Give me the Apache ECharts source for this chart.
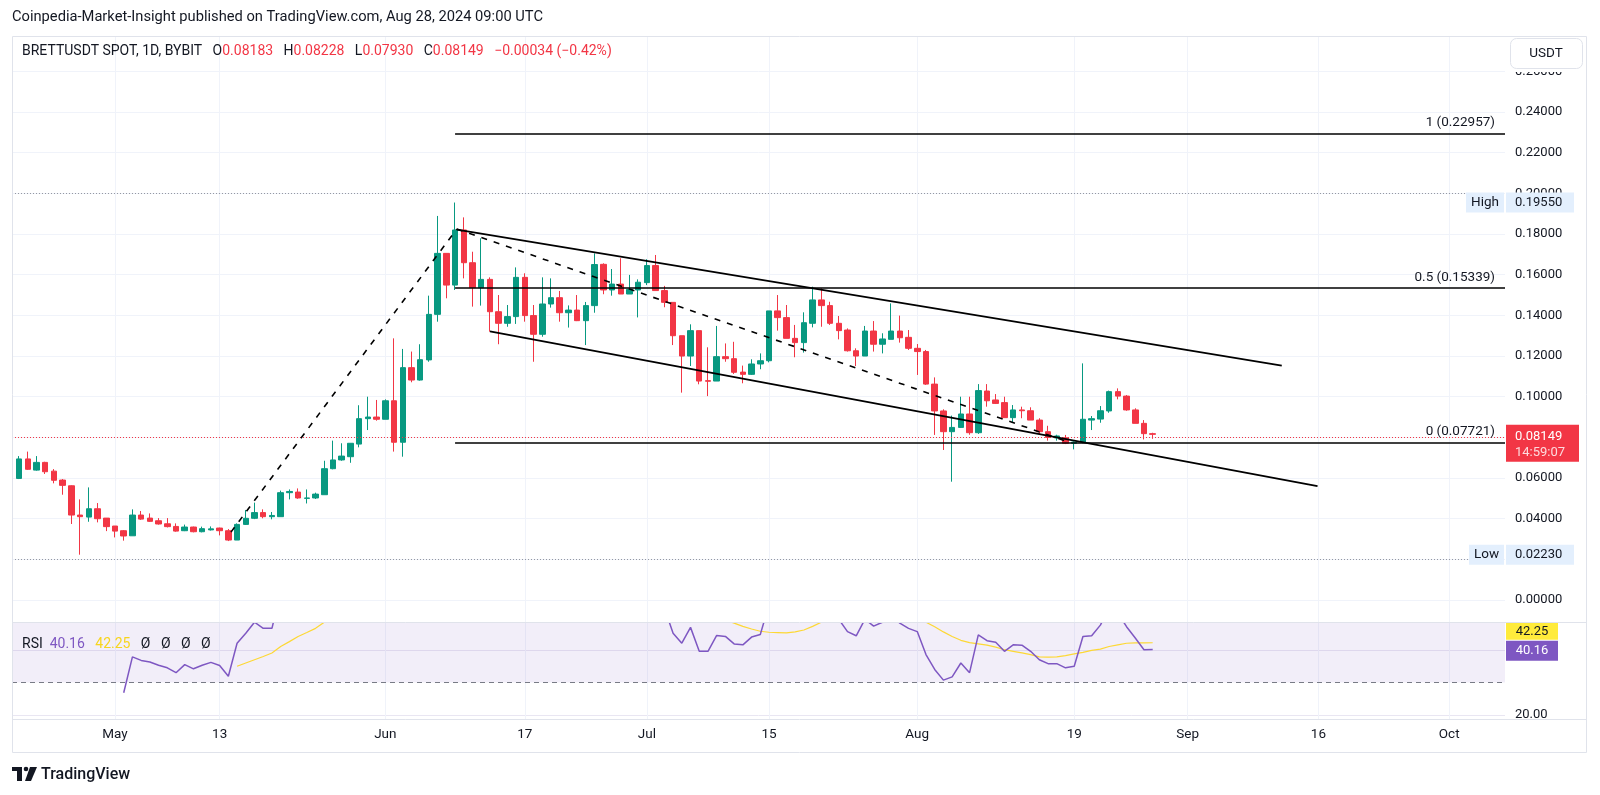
<!DOCTYPE html>
<html><head><meta charset="utf-8">
<script src="https://cdn.jsdelivr.net/npm/echarts@6/dist/echarts.min.js"></script>
<style>html,body{margin:0;padding:0;background:#fff}#c{width:1600px;height:795px}</style>
</head><body><div id="c"></div><script>
// ---------------- DATA ----------------
const dates = [
'2024-04-20','2024-04-21','2024-04-22','2024-04-23','2024-04-24','2024-04-25','2024-04-26','2024-04-27','2024-04-28','2024-04-29','2024-04-30',
'2024-05-01','2024-05-02','2024-05-03','2024-05-04','2024-05-05','2024-05-06','2024-05-07','2024-05-08','2024-05-09','2024-05-10','2024-05-11','2024-05-12','2024-05-13','2024-05-14','2024-05-15','2024-05-16','2024-05-17','2024-05-18','2024-05-19','2024-05-20','2024-05-21','2024-05-22','2024-05-23','2024-05-24','2024-05-25','2024-05-26','2024-05-27','2024-05-28','2024-05-29','2024-05-30','2024-05-31',
'2024-06-01','2024-06-02','2024-06-03','2024-06-04','2024-06-05','2024-06-06','2024-06-07','2024-06-08','2024-06-09','2024-06-10','2024-06-11','2024-06-12','2024-06-13','2024-06-14','2024-06-15','2024-06-16','2024-06-17','2024-06-18','2024-06-19','2024-06-20','2024-06-21','2024-06-22','2024-06-23','2024-06-24','2024-06-25','2024-06-26','2024-06-27','2024-06-28','2024-06-29','2024-06-30',
'2024-07-01','2024-07-02','2024-07-03','2024-07-04','2024-07-05','2024-07-06','2024-07-07','2024-07-08','2024-07-09','2024-07-10','2024-07-11','2024-07-12','2024-07-13','2024-07-14','2024-07-15','2024-07-16','2024-07-17','2024-07-18','2024-07-19','2024-07-20','2024-07-21','2024-07-22','2024-07-23','2024-07-24','2024-07-25','2024-07-26','2024-07-27','2024-07-28','2024-07-29','2024-07-30','2024-07-31',
'2024-08-01','2024-08-02','2024-08-03','2024-08-04','2024-08-05','2024-08-06','2024-08-07','2024-08-08','2024-08-09','2024-08-10','2024-08-11','2024-08-12','2024-08-13','2024-08-14','2024-08-15','2024-08-16','2024-08-17','2024-08-18','2024-08-19','2024-08-20','2024-08-21','2024-08-22','2024-08-23','2024-08-24','2024-08-25','2024-08-26','2024-08-27','2024-08-28'];
const opens = [
0.0598,0.0694,0.0639,0.0677,0.0634,0.0590,0.0562,0.0418,0.0408,0.0449,0.0403,
0.0364,0.0341,0.0316,0.0418,0.0403,0.0390,0.0375,0.0362,0.0341,0.0359,0.0336,0.0345,0.0354,0.0341,0.0295,0.0372,0.0402,0.0430,0.0410,0.0410,0.0528,0.0531,0.0500,0.0502,0.0518,0.0646,0.0689,0.0705,0.0767,0.0892,0.0900,
0.0889,0.0980,0.0776,0.1143,0.1082,0.1181,0.1405,0.1705,0.1549,0.1820,0.1659,0.1536,0.1577,0.1418,0.1361,0.1394,0.1587,0.1399,0.1307,0.1456,0.1487,0.1413,0.1426,0.1374,0.1448,0.1651,0.1525,0.1554,0.1505,0.1525,
0.1561,0.1645,0.1522,0.1464,0.1300,0.1200,0.1325,0.1079,0.1077,0.1197,0.1187,0.1121,0.1110,0.1161,0.1177,0.1422,0.1389,0.1287,0.1266,0.1361,0.1476,0.1448,0.1361,0.1328,0.1226,0.1200,0.1323,0.1258,0.1282,0.1323,0.1292,
0.1238,0.1222,0.1062,0.0930,0.0828,0.0849,0.0915,0.0823,0.1028,0.0984,0.0971,0.0897,0.0935,0.0931,0.0885,0.0828,0.0797,0.0798,0.0771,0.0777,0.0885,0.0890,0.0930,0.1025,0.1003,0.0935,0.0869,0.08183];
const highs = [
0.0708,0.0730,0.0708,0.0680,0.0644,0.0595,0.0564,0.0495,0.0554,0.0477,0.0403,
0.0364,0.0344,0.0446,0.0438,0.0426,0.0403,0.0403,0.0377,0.0371,0.0361,0.0361,0.0362,0.0356,0.0349,0.0377,0.0443,0.0479,0.0446,0.0433,0.0538,0.0544,0.0549,0.0544,0.0528,0.0685,0.0784,0.0771,0.0771,0.0958,0.1000,0.0984,
0.0987,0.1287,0.1235,0.1222,0.1258,0.1497,0.1889,0.1705,0.1955,0.1882,0.1713,0.1779,0.1587,0.1500,0.1451,0.1636,0.1607,0.1451,0.1587,0.1582,0.1520,0.1449,0.1500,0.1466,0.1705,0.1656,0.1628,0.1681,0.1599,0.1577,
0.1676,0.1697,0.1545,0.1464,0.1300,0.1356,0.1325,0.1243,0.1348,0.1262,0.1270,0.1153,0.1184,0.1213,0.1422,0.1500,0.1451,0.1353,0.1415,0.1541,0.1533,0.1467,0.1397,0.1336,0.1238,0.1348,0.1372,0.1312,0.1459,0.1399,0.1328,
0.1259,0.1230,0.1095,0.0938,0.0907,0.1000,0.1000,0.1062,0.1062,0.1013,0.1000,0.0959,0.0951,0.0948,0.0894,0.0857,0.0813,0.0812,0.0780,0.1164,0.0905,0.0954,0.1030,0.1041,0.1008,0.0943,0.0885,0.08228];
const lows = [
0.0595,0.0640,0.0636,0.0620,0.0574,0.0518,0.0374,0.0223,0.0385,0.0382,0.0339,
0.0308,0.0292,0.0316,0.0394,0.0384,0.0371,0.0357,0.0336,0.0339,0.0333,0.0333,0.0342,0.0318,0.0290,0.0295,0.0369,0.0398,0.0402,0.0397,0.0410,0.0495,0.0498,0.0475,0.0497,0.0518,0.0643,0.0685,0.0675,0.0751,0.0836,0.0882,
0.0889,0.0730,0.0705,0.1071,0.1079,0.1172,0.1369,0.1484,0.1525,0.1582,0.1443,0.1448,0.1320,0.1258,0.1344,0.1358,0.1369,0.1172,0.1295,0.1438,0.1369,0.1340,0.1372,0.1254,0.1413,0.1504,0.1497,0.1505,0.1505,0.1390,
0.1549,0.1522,0.1440,0.1254,0.1020,0.1151,0.1061,0.1003,0.1077,0.1172,0.1112,0.1066,0.1107,0.1135,0.1169,0.1325,0.1287,0.1194,0.1217,0.1341,0.1344,0.1353,0.1282,0.1222,0.1151,0.1200,0.1222,0.1213,0.1282,0.1266,0.1230,
0.1107,0.1058,0.0812,0.0738,0.0582,0.0846,0.0813,0.0817,0.0951,0.0964,0.0897,0.0872,0.0894,0.0885,0.0816,0.0784,0.0784,0.0767,0.0741,0.0771,0.0836,0.0872,0.0921,0.0987,0.0931,0.0869,0.0790,0.07930];
const closes = [
0.0694,0.0643,0.0677,0.0631,0.0589,0.0564,0.0418,0.0410,0.0449,0.0400,0.0361,
0.0339,0.0315,0.0418,0.0398,0.0387,0.0374,0.0361,0.0339,0.0359,0.0336,0.0351,0.0350,0.0341,0.0295,0.0372,0.0402,0.0430,0.0410,0.0416,0.0528,0.0534,0.0502,0.0502,0.0521,0.0646,0.0689,0.0708,0.0771,0.0892,0.0900,0.0889,
0.0980,0.0776,0.1143,0.1082,0.1182,0.1405,0.1705,0.1549,0.1820,0.1659,0.1536,0.1577,0.1418,0.1361,0.1394,0.1587,0.1399,0.1307,0.1456,0.1487,0.1413,0.1426,0.1374,0.1448,0.1650,0.1525,0.1554,0.1505,0.1528,0.1563,
0.1645,0.1522,0.1464,0.1300,0.1200,0.1325,0.1077,0.1076,0.1197,0.1187,0.1120,0.1110,0.1161,0.1177,0.1422,0.1389,0.1287,0.1266,0.1364,0.1476,0.1448,0.1361,0.1325,0.1226,0.1200,0.1323,0.1258,0.1284,0.1323,0.1290,0.1238,
0.1222,0.1062,0.0930,0.0828,0.0849,0.0915,0.0823,0.1030,0.0980,0.0967,0.0897,0.0935,0.0931,0.0885,0.0828,0.0800,0.0807,0.0771,0.0777,0.0889,0.0892,0.0931,0.1025,0.1003,0.0935,0.0869,0.08183,0.08149];

const rsiStartDate = '2024-05-02';
const rsiValues = [
26.8,37.9,36.8,36.3,35.3,34.5,33.0,35.5,34.2,35.3,36.2,35.2,31.9,42.1,45.2,48.6,46.7,46.7,58,58.5,56,56,57.5,66,69,70,73,78,78.5,77.5,
80,62,75,72,74,78,82,76,80,72,66,67,61,59,60,64,58,55.5,59,60,57,57.5,56,58,62,58,59,57.5,58,59,
61,56.5,53,45.2,42.1,47.0,39.6,39.6,44.5,44.2,41.9,41.6,44.0,44.8,54,53,50.5,50,52.5,56,54.5,51,49.5,45.7,44.4,49.5,47.4,48.6,51,48.3,46.7,
45.7,38.6,34.0,30.7,31.7,36.0,33.0,44.7,42.9,42.4,39.6,41.6,41.5,39.6,37.0,35.8,35.8,34.5,35.0,44.2,44.4,47.7,53,51.5,47.2,43.7,40.1,40.16];
const rsiMaStartDate = '2024-05-15';
const rsiMaValues = [
35.0,36.0,37.0,38.0,39.1,41.1,42.6,44.2,45.4,46.7,48.6,50.5,52.5,54.5,57,59.5,62,
64.5,65.5,67,68,69.5,71,72,72.5,73.5,73.5,73,72.5,71.5,70,69,68,67,65.5,64.5,63.5,62.5,61.5,60.5,59.8,59.5,59,59,58.5,58.5,58.5,
58.5,58,57.5,56,54.5,53.5,52,51,50,49.3,48.3,47.3,46.5,45.8,45.5,45.4,45.3,45.6,46.2,47.3,48.6,49.2,49.5,49.8,49.8,49.7,49.6,49.8,49.8,49.6,49.6,
49.2,48.6,47.2,45.6,44.2,43.0,42.3,41.9,41.5,40.9,40.1,39.6,39.1,38.6,37.9,37.8,37.9,38.3,38.8,39.3,39.9,40.3,41.1,41.6,42.1,42.2,42.2,42.25];

const xTickDates  = ['2024-05-01','2024-05-13','2024-06-01','2024-06-17','2024-07-01','2024-07-15','2024-08-01','2024-08-19','2024-09-01','2024-09-16','2024-10-01'];
const xTickLabels = ['May','13','Jun','17','Jul','15','Aug','19','Sep','16','Oct'];
const priceTicks = [0,0.02,0.04,0.06,0.08,0.10,0.12,0.14,0.16,0.18,0.20,0.22,0.24,0.26];
const rsiTicks = [20,40];
const rsiLowerBand = 30, rsiUpperBand = 70;

const fibLevels = ['1','0.5','0'];
const fibPrices = [0.22957,0.15339,0.07721];
const fibStartDate = '2024-06-09';
// trend line end points: [days after 2024-04-20, price]
const impulseLine   = [[24.3,0.0334],[50.2,0.1825]];
const retraceLine   = [[50.2,0.1825],[120.5,0.0775]];
const channelUpper  = [[50.2,0.1822],[144.8,0.1153]];
const channelLower  = [[54.0,0.1321],[148.9,0.0560]];

const symbolTitle = 'BRETTUSDT SPOT, 1D, BYBIT';
const publishText = 'Coinpedia-Market-Insight published on TradingView.com, Aug 28, 2024 09:00 UTC';
const countdown = '14:59:07';

// ---------------- BUILD ----------------
const DAY = 86400000;
const t0 = Date.parse(dates[0] + 'T00:00:00Z');
const dayIndex = s => (Date.parse(s + 'T00:00:00Z') - t0) / DAY;
const X_MIN = -0.81, X_MAX = 170.4;
const FONT = 'Roboto, "Noto Sans", sans-serif';
const UP = '#089981', DOWN = '#f23645', INK = '#131722', GRID = '#f0f3fa';

const candles = dates.map((d, i) => [dayIndex(d), opens[i], closes[i], lows[i], highs[i]]);
const rsiData = rsiValues.map((v, i) => [dayIndex(rsiStartDate) + i, v]);
const maData = rsiMaValues.map((v, i) => [dayIndex(rsiMaStartDate) + i, v]);
const xTickVals = xTickDates.map(dayIndex);
const highVal = Math.max(...highs), lowVal = Math.min(...lows);
const n = closes.length;
const lastClose = closes[n - 1], prevClose = closes[n - 2];
const chg = lastClose - prevClose, chgPct = chg / prevClose * 100;
const fmtSigned = (v, d) => (v < 0 ? '\u2212' : '+') + Math.abs(v).toFixed(d);
const fibStart = dayIndex(fibStartDate);

const xAxisBase = (gi, showLabels) => ({
  type: 'value', gridIndex: gi, min: X_MIN, max: X_MAX,
  axisLine: { show: false },
  axisTick: { show: false, customValues: xTickVals },
  axisLabel: showLabels ? {
    customValues: xTickVals, color: INK, fontSize: 13.5, fontFamily: FONT, margin: 9,
    formatter: v => { const k = xTickVals.indexOf(v); return k >= 0 ? xTickLabels[k] : ''; }
  } : { show: false },
  splitLine: { show: true, lineStyle: { color: GRID, width: 1 } }
});

const trend = (pts, dashed, extra) => Object.assign({
  type: 'line', xAxisIndex: 0, yAxisIndex: 0, data: pts, symbol: 'none', silent: true, z: 5,
  lineStyle: { color: '#000', width: dashed ? 1.6 : 1.8, type: dashed ? [6, 7] : 'solid' }
}, extra || {});

const option = {
  animation: false,
  backgroundColor: '#fff',
  grid: [
    { left: 12, right: 95, top: 36, height: 586 },
    { left: 12, right: 95, top: 623, height: 96 }
  ],
  xAxis: [xAxisBase(0, false), xAxisBase(1, true)],
  yAxis: [
    { type: 'value', gridIndex: 0, position: 'right', min: -0.0108, max: 0.2774,
      axisLine: { show: false }, axisTick: { show: false, customValues: priceTicks },
      axisLabel: { customValues: priceTicks, formatter: v => v.toFixed(5), color: INK, fontSize: 13, fontFamily: FONT, margin: 10 },
      splitLine: { lineStyle: { color: GRID } } },
    { type: 'value', gridIndex: 1, position: 'right', min: 18.7, max: 48.35,
      axisLine: { show: false }, axisTick: { show: false, customValues: rsiTicks },
      axisLabel: { customValues: rsiTicks, formatter: v => v.toFixed(2), color: INK, fontSize: 13, fontFamily: FONT, margin: 10 },
      splitLine: { lineStyle: { color: '#e9e6f2' } } }
  ],
  series: [
    { type: 'candlestick', xAxisIndex: 0, yAxisIndex: 0, data: candles, barWidth: 6, clip: true, z: 3,
      itemStyle: { color: UP, color0: DOWN, borderColor: UP, borderColor0: DOWN, borderWidth: 1 },
      markLine: {
        silent: true, symbol: ['none', 'none'], animation: false,
        lineStyle: { color: '#000', type: 'solid', width: 1.6 },
        data: fibPrices.map((p, i) => [
            { coord: [fibStart, p],
              label: { show: true, position: 'insideEndTop', formatter: fibLevels[i] + ' (' + p.toFixed(5) + ')',
                       color: INK, fontSize: 13.5, fontFamily: FONT, distance: [10, 4] } },
            { coord: [X_MAX, p] }
          ])
      }
    },
    trend(impulseLine, true, {
      markLine: { silent: true, symbol: ['none', 'none'], animation: false, label: { show: false },
        lineStyle: { color: '#9598a1', type: [1, 2], width: 1 },
        data: [{ yAxis: highVal }, { yAxis: lowVal }] } }),
    trend(retraceLine, true, {
      markLine: { silent: true, symbol: ['none', 'none'], animation: false, label: { show: false },
        lineStyle: { color: DOWN, type: [1, 2], width: 1 },
        data: [{ yAxis: lastClose }] } }),
    trend(channelUpper, false),
    trend(channelLower, false),
    { type: 'line', xAxisIndex: 1, yAxisIndex: 1, data: rsiData, symbol: 'none', clip: true, silent: true, z: 4,
      lineStyle: { color: '#7e57c2', width: 1.5 },
      markArea: { silent: true, itemStyle: { color: 'rgba(126,87,194,0.10)' },
        data: [[{ yAxis: rsiLowerBand }, { yAxis: 48.35 }]] },
      markLine: { silent: true, symbol: ['none', 'none'], label: { show: false },
        lineStyle: { color: '#787b86', type: [5, 4], width: 1 },
        data: [{ yAxis: rsiLowerBand }] }
    },
    { type: 'line', xAxisIndex: 1, yAxisIndex: 1, data: maData, symbol: 'none', clip: true, silent: true, z: 3,
      lineStyle: { color: '#fdd835', width: 1.2 } }
  ]
};

const chart = echarts.init(document.getElementById('c'));
chart.setOption(option);

const py = v => chart.convertToPixel({ yAxisIndex: 0 }, v);
const ry = v => chart.convertToPixel({ yAxisIndex: 1 }, v);
const lastRsi = rsiValues[rsiValues.length - 1], lastMa = rsiMaValues[rsiMaValues.length - 1];

const txt = (x, y, text, style) => ({ type: 'text', x, y, z: 110, silent: true,
  style: Object.assign({ text, fill: INK, font: '13px ' + FONT, textVerticalAlign: 'middle' }, style || {}) });
const box = (x, y, w, h, fill, extra) => ({ type: 'rect', z: 105, silent: true,
  shape: Object.assign({ x, y, width: w, height: h }, extra || {}), style: { fill } });

const yH = py(highVal), yL = py(lowVal), yP = py(lastClose);
const yMa = ry(lastMa) - 11.5, yRs = ry(lastRsi) + 1.2;
const G = '   ';

const graphics = [
  // cover strips (price scale top under button, time-axis zone on the scale)
  box(1506, 37, 80, 35, '#fff'),
  box(1506, 720, 80, 32, '#fff'),
  // frame
  { type: 'rect', z: 106, silent: true, shape: { x: 12.5, y: 36.5, width: 1574, height: 716 }, style: { fill: 'none', stroke: '#e0e3eb', lineWidth: 1 } },
  { type: 'line', z: 106, silent: true, shape: { x1: 12, y1: 622.5, x2: 1587, y2: 622.5 }, style: { stroke: '#e0e3eb', lineWidth: 1 } },
  { type: 'line', z: 106, silent: true, shape: { x1: 12, y1: 719.5, x2: 1587, y2: 719.5 }, style: { stroke: '#e0e3eb', lineWidth: 1 } },
  // header
  txt(12, 17, publishText, { font: '14.7px ' + FONT }),
  { type: 'text', x: 22, y: 51, z: 110, silent: true, style: {
      text: symbolTitle + G + '{k|O}{r|' + opens[n-1].toFixed(5) + '}' + G + '{k|H}{r|' + highs[n-1].toFixed(5) + '}' + G + '{k|L}{r|' + lows[n-1].toFixed(5) +
            '}' + G + '{k|C}{r|' + lastClose.toFixed(5) + '}' + G + '{r|' + fmtSigned(chg, 5) + ' (' + fmtSigned(chgPct, 2) + '%)}',
      fill: INK, font: '14px ' + FONT, textVerticalAlign: 'middle',
      rich: { k: { fill: INK, font: '14px ' + FONT }, r: { fill: DOWN, font: '14px ' + FONT } } } },
  // USDT button
  { type: 'rect', z: 107, silent: true, shape: { x: 1510.5, y: 38.5, width: 72, height: 30, r: 6 }, style: { fill: '#fff', stroke: '#e0e3eb', lineWidth: 1 } },
  txt(1546, 53.5, 'USDT', { textAlign: 'center', font: '13.5px ' + FONT }),
  // High / Low tags
  box(1466, yH - 10, 38, 20, '#e3effd'), txt(1485, yH, 'High', { textAlign: 'center', font: '13.5px ' + FONT }),
  box(1506, yH - 10, 68, 20, '#e3effd'), txt(1515, yH, highVal.toFixed(5)),
  box(1469, yL - 10, 35, 20, '#e3effd'), txt(1486.5, yL, 'Low', { textAlign: 'center', font: '13.5px ' + FONT }),
  box(1506, yL - 10, 68, 20, '#e3effd'), txt(1515, yL, lowVal.toFixed(5)),
  // last price tag
  box(1506, yP - 9.5, 73, 37, DOWN), txt(1515, yP + 2, lastClose.toFixed(5), { fill: '#fff' }),
  txt(1515, yP + 18, countdown, { fill: 'rgba(255,255,255,0.82)' }),
  // RSI legend
  { type: 'text', x: 22, y: 644, z: 110, silent: true, style: {
      text: 'RSI  {p|' + lastRsi.toFixed(2) + '}   {y|' + lastMa.toFixed(2) + '}   \u00d8   \u00d8   \u00d8   \u00d8',
      fill: INK, font: '14px ' + FONT, textVerticalAlign: 'middle',
      rich: { p: { fill: '#7e57c2', font: '14px ' + FONT }, y: { fill: '#f7d51d', font: '14px ' + FONT } } } },
  // RSI tags
  box(1506, yMa - 8.5, 52, 17, '#ffeb3b'), txt(1532, yMa, lastMa.toFixed(2), { textAlign: 'center' }),
  box(1506, yRs - 10, 52, 20, '#7e57c2'), txt(1532, yRs, lastRsi.toFixed(2), { textAlign: 'center', fill: '#fff' }),
  // TradingView logo + text
  { type: 'rect', z: 110, silent: true, shape: { x: 12, y: 767, width: 10, height: 4 }, style: { fill: INK } },
  { type: 'rect', z: 110, silent: true, shape: { x: 17, y: 767, width: 5, height: 14 }, style: { fill: INK } },
  { type: 'circle', z: 110, silent: true, shape: { cx: 26, cy: 769, r: 2.3 }, style: { fill: INK } },
  { type: 'polygon', z: 110, silent: true, shape: { points: [[30, 767], [37, 767], [31, 781], [25, 781]] }, style: { fill: INK } },
  txt(41, 774.5, 'TradingView', { font: '500 16px ' + FONT })
];
chart.setOption({ graphic: graphics });
</script></body></html>
